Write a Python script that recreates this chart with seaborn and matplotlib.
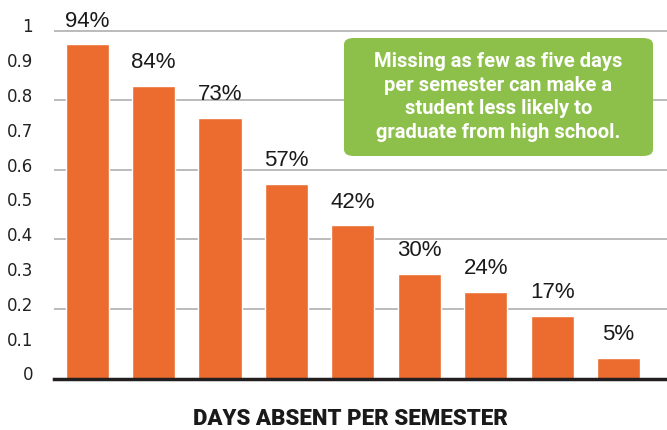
import matplotlib
matplotlib.use("Agg")
import matplotlib.pyplot as plt
from matplotlib import font_manager
import matplotlib.transforms as mtransforms
from matplotlib.patches import FancyBboxPatch
import seaborn as sns
import pandas as pd

# data
categories = ["1", "2", "3", "4", "5", "6", "7", "8", "9"]
bar_heights = [0.96, 0.84, 0.75, 0.56, 0.44, 0.30, 0.25, 0.18, 0.06]
value_labels = ["94%", "84%", "73%", "57%", "42%", "30%", "24%", "17%", "5%"]
y_ticks = [0, 0.1, 0.2, 0.3, 0.4, 0.5, 0.6, 0.7, 0.8, 0.9, 1.0]
y_tick_labels = ["0", "0.1", "0.2", "0.3", "0.4", "0.5", "0.6", "0.7", "0.8", "0.9", "1"]
grid_levels = [0.2, 0.4, 0.6, 0.8, 1.0]
note = "Missing as few as five days\nper semester can make a\nstudent less likely to\ngraduate from high school."
x_title = "DAYS ABSENT PER SEMESTER"

names = {f.name for f in font_manager.fontManager.ttflist}
narrow = "Liberation Sans Narrow" if "Liberation Sans Narrow" in names else "Roboto"

sns.set_theme(style="white")
plt.rcParams["font.family"] = ["DejaVu Sans"]

ORANGE = "#ec6c2f"
GREEN = "#8dc04a"

df = pd.DataFrame({"days": categories, "share": bar_heights})

fig = plt.figure(figsize=(6.67, 4.31), dpi=100)
ax = fig.add_axes([54 / 667, 1 - 379.5 / 431, 1 - 54 / 667, 379.5 / 431])
sns.barplot(data=df, x="days", y="share", color=ORANGE, saturation=1,
            width=0.65, ax=ax, zorder=3)

ax.set_ylim(0, 379.5 / 348)
ax.set_xlim(-0.5, 8.73)
for g in grid_levels:
    ax.axhline(g, color="#a8a8a8", lw=1.1, zorder=1)
for s in ["top", "right", "left"]:
    ax.spines[s].set_visible(False)
ax.spines["bottom"].set_color("#231f20")
ax.spines["bottom"].set_linewidth(2.5)
ax.spines["bottom"].set_zorder(5)

ax.set_yticks(y_ticks)
ax.set_yticklabels(y_tick_labels, fontsize=12, color="#222222")
ax.tick_params(axis="y", length=0, pad=15)
shift = mtransforms.ScaledTranslation(0, 6 / 100, fig.dpi_scale_trans)
for lab in ax.get_yticklabels():
    lab.set_transform(lab.get_transform() + shift)
ax.set_xticks([])
ax.set_xlabel("")
ax.set_ylabel("")

for i, (h, lab) in enumerate(zip(bar_heights, value_labels)):
    ax.annotate(lab, (i, h), xytext=(0, 13.5), textcoords="offset points",
                ha="center", va="baseline", fontsize=16,
                family="Liberation Sans", color="#1a1a1a")

# note box
bx0, by0, bx1, by1 = 344 / 667, 1 - 157 / 431, 653 / 667, 1 - 39 / 431
box = FancyBboxPatch((bx0, by0), bx1 - bx0, by1 - by0,
                     boxstyle="round,pad=0,rounding_size=0.015",
                     transform=fig.transFigure, facecolor=GREEN,
                     edgecolor="none", zorder=10)
fig.patches.append(box)
fig.text((bx0 + bx1) / 2, (by0 + by1) / 2 + 0.002, note, ha="center", va="center",
         color="white", fontsize=14.5, fontweight="bold", family=narrow,
         linespacing=1.3, zorder=11)

fig.text(350 / 667, 1 - 419 / 431, x_title, ha="center", va="center",
         fontsize=16, fontweight="black", family=narrow, color="#1a1a1a")

fig.savefig("out.png", dpi=100)
